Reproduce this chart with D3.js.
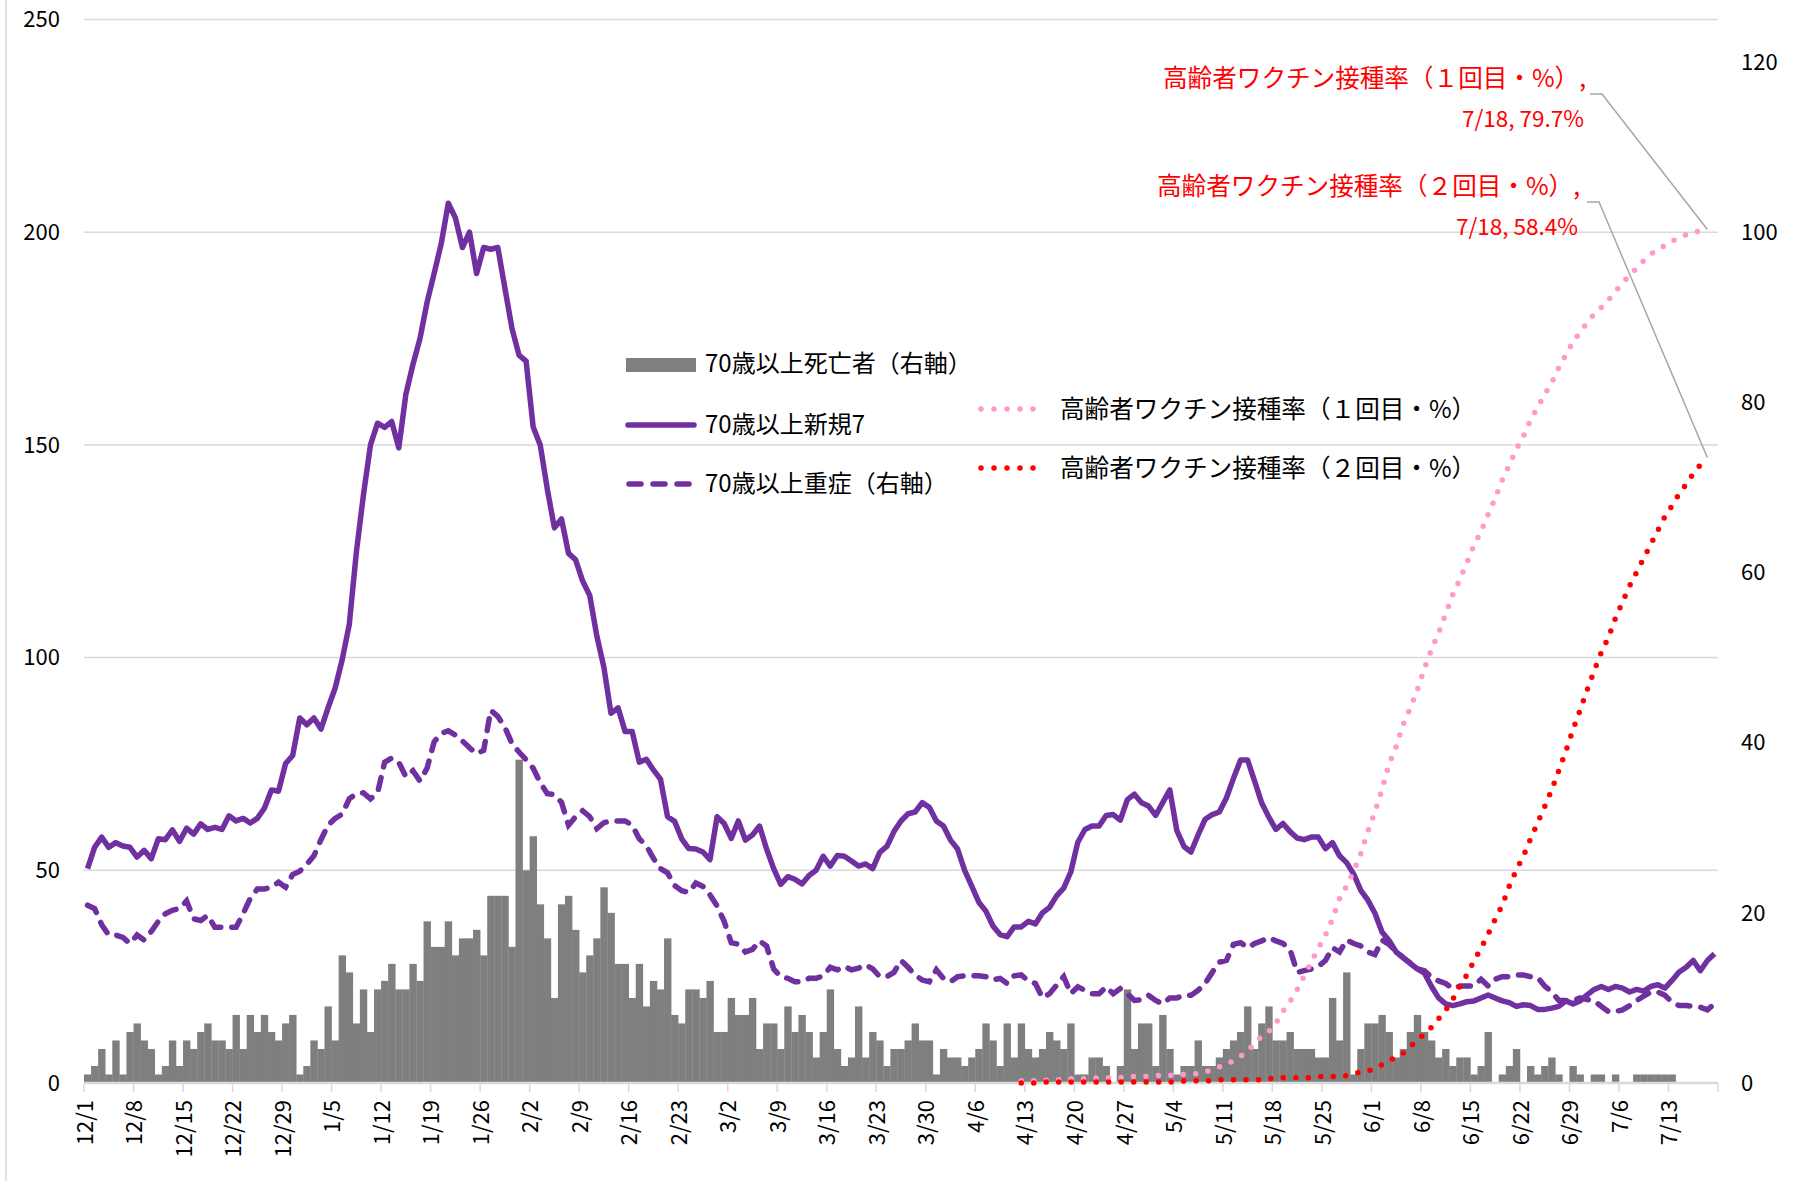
<!DOCTYPE html>
<html>
<head>
<meta charset="utf-8">
<script src="https://cdn.jsdelivr.net/npm/d3@7"></script>
<style>
  body { margin: 0; background: #fff; }
  text { font-family: "Noto Sans CJK JP", "Noto Sans", sans-serif; }
</style>
</head>
<body>
<svg id="chart" width="1796" height="1181"></svg>
<script>
// daily categories 12/1 .. 7/19
const firstDay = new Date(2020, 11, 1);
const lastDay = new Date(2021, 6, 19);

const tickLabels = ["12/1","12/8","12/15","12/22","12/29","1/5","1/12","1/19","1/26","2/2","2/9",
  "2/16","2/23","3/2","3/9","3/16","3/23","3/30","4/6","4/13","4/20","4/27","5/4","5/11","5/18",
  "5/25","6/1","6/8","6/15","6/22","6/29","7/6","7/13"];
const leftTicks = [0, 50, 100, 150, 200, 250];
const rightTicks = [0, 20, 40, 60, 80, 100, 120];

// 70歳以上死亡者 (right axis)
const deaths70 = [
  1,2,4,1,5,1,6,7,5,4, 1,2,5,2,5,4,6,7,5,5, 4,8,4,8,6,8,6,5,7,8, 1,2,5,4,9,5,15,13,7,11,
  6,11,12,14,11,11,14,12,19,16, 16,19,15,17,17,18,15,22,22,22, 16,38,25,29,21,17,10,21,22,18,
  13,15,17,23,20,14,14,10,14,9, 12,11,17,8,7,11,11,10,12,6, 6,10,8,8,10,4,7,7,4,9,
  6,8,6,3,6,11,4,2,3,9, 3,6,5,2,4,4,5,7,5,5, 1,4,3,3,2,3,4,7,5,2, 7,3,7,4,3,4,6,5,4,7,
  1,1,3,3,2,0,2,11,4,7, 7,2,8,4,1,2,2,5,2,2, 3,4,5,6,9,4,7,9,5,5, 6,4,4,4,3,3,10,5,13,1,
  4,7,7,8,6,3,4,6,8,6, 5,3,4,2,3,3,1,2,6,0, 1,2,4,0,2,1,2,3,1,0, 2,1,0,1,1,0,1,0,0,1,
  1,1,1,1,1,0,0,0,0,0,0];

// 70歳以上新規7 (left axis)
const newCases70 = [
  50.4,55.4,57.8,55.4,56.5,55.7,55.4,53.1,54.7,52.7, 57.4,57.2,59.5,56.8,59.9,58.5,60.9,59.6,60.1,59.6,
  62.8,61.6,62.2,61.1,62.2,64.6,68.9,68.6,75.1,77.0, 85.8,84.2,85.8,83.2,88.2,92.8,99.5,107.8,124.7,138.2,
  150.0,155.1,154.1,155.5,149.3,161.9,168.9,175.0,183.5,190.3, 197.3,206.8,203.4,196.4,200.0,190.3,196.4,196.0,196.4,186.9,
  177.4,171.1,169.7,154.2,150.0,139.6,130.5,132.6,124.5,123.0, 118.0,114.6,105.1,97.7,86.9,88.2,82.6,82.6,75.4,76.1,
  73.6,71.4,62.6,61.5,57.4,55.1,55.0,54.3,52.5,62.6, 61.0,57.5,61.6,57.1,58.3,60.4,55.0,50.4,46.7,48.5,
  47.9,46.8,48.8,50.0,53.3,51.0,53.5,53.3,52.2,51.0, 51.5,50.4,54.2,55.6,59.1,61.6,63.3,63.7,65.9,64.8,
  61.6,60.4,57.1,55.0,50.0,46.3,42.5,40.4,36.9,34.9, 34.4,36.7,36.7,38.0,37.4,40.0,41.3,44.0,45.8,49.6,
  56.6,59.6,60.4,60.4,62.9,63.1,61.8,66.6,67.9,65.9, 65.1,62.9,65.9,68.9,59.3,55.6,54.3,58.3,62.0,63.1,
  63.7,67.0,71.6,75.9,75.9,70.9,65.8,62.5,59.6,61.0, 59.1,57.6,57.2,57.8,57.8,55.1,56.5,53.4,51.8,49.1,
  45.3,43.0,39.9,35.5,33.5,30.8,29.5,28.1,26.8,25.8, 22.7,20.0,18.6,18.2,18.6,19.1,19.3,20.0,20.7,20.0,
  19.3,18.9,18.0,18.4,18.2,17.3,17.3,17.6,18.0,19.3, 18.6,19.3,20.7,22.0,22.7,22.0,22.7,22.3,21.4,22.0,
  21.6,22.7,23.1,22.3,24.1,26.1,27.2,28.8,26.4,28.8,30.4];

// 70歳以上重症 (right axis)
const severe70 = [
  20.9,20.5,18.6,17.4,17.4,17.1,16.4,17.4,16.8,17.8, 19.0,19.9,20.3,20.5,21.4,19.3,19.1,19.7,18.3,18.3,
  18.3,18.3,19.9,21.7,22.8,22.8,23.0,23.6,23.0,24.5, 24.9,25.7,26.7,28.6,30.3,31.1,31.6,33.4,34.0,34.1,
  33.4,34.1,37.7,38.2,37.7,36.0,36.7,35.5,37.0,40.1, 41.1,41.4,40.9,40.2,39.4,38.7,39.1,43.8,43.1,41.8,
  39.9,38.9,38.0,37.0,35.3,34.0,33.9,33.0,30.3,31.3, 32.0,31.3,29.9,30.6,30.8,30.8,30.8,30.3,28.7,27.9,
  26.4,25.2,24.7,23.2,22.6,22.4,23.5,23.1,22.1,20.8, 19.0,16.5,16.3,15.4,15.7,16.7,16.1,13.4,12.5,12.3,
  11.9,11.9,12.3,12.3,12.6,13.6,13.3,13.7,13.3,13.5, 13.9,13.4,12.5,12.5,13.0,14.4,13.6,12.7,12.1,11.9,
  13.3,12.3,11.9,12.5,12.6,12.6,12.6,12.5,12.1,12.3, 11.7,12.6,12.7,12.0,11.7,10.0,10.5,11.5,12.5,10.5,
  11.3,10.9,10.5,10.5,11.3,10.5,11.1,10.5,9.7,9.8, 10.3,9.7,9.3,10.0,10.0,10.3,10.3,10.9,11.7,13.0,
  14.2,14.4,16.3,16.5,15.9,16.4,16.7,17.1,16.7,16.4, 15.7,13.0,13.2,13.4,13.7,14.4,15.9,15.4,16.8,16.4,
  16.1,15.4,15.1,16.8,16.3,15.4,14.7,14.1,13.4,13.2, 12.4,12.0,11.7,11.1,11.4,11.4,11.4,12.2,11.4,12.2,
  12.5,12.5,12.7,12.7,12.5,12.4,11.4,10.7,9.7,9.7, 9.7,10.0,9.8,9.7,9.0,8.4,8.4,8.6,9.1,9.7,
  10.2,10.7,10.7,10.3,9.5,9.1,9.1,9.0,8.9,8.6,9.3];

// 高齢者ワクチン接種率 (%), from 4/12
const vaccStart = "4/12";
const vaccDose1 = [
  0.2,0.2,0.2,0.2,0.3,0.3,0.3,0.4,0.4,0.4, 0.4,0.5,0.5,0.5,0.5,0.6,0.6,0.6,0.6,0.7,
  0.7,0.7,0.8,0.8,0.8,0.9,1.0,1.3,1.5,1.7, 2.1,2.5,3.0,3.7,4.4,4.8,5.6,6.7,7.6,8.7,
  10.0,11.3,12.6,13.8,15.3,17.2,18.4,19.8,21.4,23.5, 25.3,27.4,29.8,31.4,33.5,35.0,36.7,38.7,40.5,42.0,
  43.8,45.6,47.0,48.6,50.2,51.5,53.1,54.6,56.3,57.7, 59.2,60.4,61.9,63.1,64.3,65.4,66.8,68.0,69.2,70.1,
  71.0,71.8,72.4,73.1,73.9,74.7,75.4,76.1,76.8,77.4, 77.8,78.2,78.6,78.9,79.2,79.4,79.6,79.7];
const vaccDose2 = [
  0.0,0.0,0.0,0.1,0.1,0.1,0.1,0.1,0.1,0.1, 0.1,0.1,0.1,0.1,0.1,0.1,0.1,0.1,0.1,0.1,
  0.1,0.1,0.1,0.2,0.2,0.2,0.2,0.2,0.3,0.3, 0.3,0.3,0.3,0.3,0.3,0.4,0.5,0.5,0.5,0.5,
  0.5,0.5,0.6,0.6,0.6,0.6,0.7,0.9,1.0,1.1, 1.4,1.7,2.1,2.4,2.8,3.4,4.0,4.6,5.2,6.0,
  6.8,7.8,9.0,10.1,11.4,12.6,13.9,15.3,16.6,18.4, 19.9,21.2,22.8,24.3,25.8,27.4,29.2,31.0,33.0,34.8,
  36.7,38.5,40.2,41.6,43.4,44.9,46.4,47.7,49.0,50.3, 51.6,52.9,53.9,55.0,55.9,56.9,57.7,58.4];

const seriesNames = ["70歳以上死亡者（右軸）", "70歳以上新規7", "70歳以上重症（右軸）",
  "高齢者ワクチン接種率（１回目・%）", "高齢者ワクチン接種率（２回目・%）"];

const svg = d3.select("#chart");
const W = 1796, H = 1181;
const plot = {left: 84, right: 1718, top: 19.5, bottom: 1083};

const fmt = d3.timeFormat("%-m/%-d");
const cats = d3.timeDay.range(firstDay, d3.timeDay.offset(lastDay, 1)).map(fmt);

const x = d3.scaleBand().domain(cats).range([plot.left, plot.right]).padding(0);
const cx = i => x(cats[i]) + x.bandwidth() / 2;
const yL = d3.scaleLinear().domain([0, 250]).range([plot.bottom, plot.top]);
const yR = d3.scaleLinear().domain([0, 125]).range([plot.bottom, plot.top]);
// the vaccination series sit on their own (hidden) scale, 79.7% lands near 100 on the right axis
const yV = d3.scaleLinear().domain([0, 99.3]).range([plot.bottom, plot.top]);

svg.append("rect").attr("width", W).attr("height", H).attr("fill", "#fff");
// chart border remnant on the left
svg.append("line").attr("x1", 6).attr("x2", 6).attr("y1", 0).attr("y2", H)
  .attr("stroke", "#d9d9d9").attr("stroke-width", 1.5);

// gridlines
svg.append("g").selectAll("line").data(leftTicks.filter(d => d > 0)).join("line")
  .attr("x1", plot.left).attr("x2", plot.right)
  .attr("y1", d => yL(d)).attr("y2", d => yL(d))
  .attr("stroke", "#d9d9d9").attr("stroke-width", 1.5);

// left axis labels
svg.append("g").selectAll("text").data(leftTicks).join("text")
  .attr("x", 60).attr("y", d => yL(d)).attr("dy", "0.35em")
  .attr("text-anchor", "end").attr("font-size", 22).attr("fill", "#000")
  .text(d => d);

// right axis labels
svg.append("g").selectAll("text").data(rightTicks).join("text")
  .attr("x", 1741).attr("y", d => yR(d)).attr("dy", "0.35em")
  .attr("text-anchor", "start").attr("font-size", 22).attr("fill", "#000")
  .text(d => d);

// bars
svg.append("g").selectAll("rect").data(deaths70).join("rect")
  .attr("x", (d, i) => x(cats[i]))
  .attr("width", x.bandwidth() + 0.3)
  .attr("y", d => yR(d))
  .attr("height", d => plot.bottom - yR(d))
  .attr("fill", "#7f7f7f");

// x axis line + ticks + labels
svg.append("line").attr("x1", plot.left).attr("x2", plot.right)
  .attr("y1", plot.bottom).attr("y2", plot.bottom)
  .attr("stroke", "#d9d9d9").attr("stroke-width", 2.5);
svg.append("g").selectAll("line").data(tickLabels.concat(["end"])).join("line")
  .attr("x1", d => d == "end" ? plot.right : x(d))
  .attr("x2", d => d == "end" ? plot.right : x(d))
  .attr("y1", plot.bottom).attr("y2", plot.bottom + 9)
  .attr("stroke", "#d9d9d9").attr("stroke-width", 1.5);
svg.append("g").selectAll("text").data(tickLabels).join("text")
  .attr("transform", d => `translate(${x(d) + 1},1100) rotate(-90)`)
  .attr("dy", "0.35em").attr("text-anchor", "end")
  .attr("font-size", 22).attr("fill", "#000")
  .text(d => d);

const purple = "#7030a0", pink = "#ff99cc", red = "#ff0000";

const lineL = d3.line().x((d, i) => cx(i)).y(d => yL(d));
const lineR = d3.line().x((d, i) => cx(i)).y(d => yR(d));
const vi = cats.indexOf(vaccStart);
const lineV = d3.line().x((d, i) => cx(vi + i)).y(d => yV(d));

svg.append("path").datum(newCases70).attr("d", lineL)
  .attr("fill", "none").attr("stroke", purple).attr("stroke-width", 5.5)
  .attr("stroke-linejoin", "round");
svg.append("path").datum(severe70).attr("d", lineR)
  .attr("fill", "none").attr("stroke", purple).attr("stroke-width", 5.5)
  .attr("stroke-dasharray", "12,11").attr("stroke-linecap", "round");
svg.append("path").datum(vaccDose1).attr("d", lineV)
  .attr("fill", "none").attr("stroke", pink).attr("stroke-width", 5.5)
  .attr("stroke-dasharray", "0,12.5").attr("stroke-linecap", "round");
svg.append("path").datum(vaccDose2).attr("d", lineV)
  .attr("fill", "none").attr("stroke", red).attr("stroke-width", 5.5)
  .attr("stroke-dasharray", "0,12.5").attr("stroke-linecap", "round");

// legend
const lg = svg.append("g").attr("fill", "#000");
lg.append("rect").attr("x", 626).attr("y", 358).attr("width", 70).attr("height", 14).attr("fill", "#7f7f7f");
lg.append("line").attr("x1", 628).attr("x2", 694).attr("y1", 425).attr("y2", 425)
  .attr("stroke", purple).attr("stroke-width", 5.5).attr("stroke-linecap", "round");
lg.append("line").attr("x1", 629).attr("x2", 694).attr("y1", 484).attr("y2", 484)
  .attr("stroke", purple).attr("stroke-width", 5.5).attr("stroke-linecap", "round")
  .attr("stroke-dasharray", "12,12");
lg.append("line").attr("x1", 981).attr("x2", 1046).attr("y1", 409).attr("y2", 409)
  .attr("stroke", pink).attr("stroke-width", 5.5).attr("stroke-linecap", "round")
  .attr("stroke-dasharray", "0,13");
lg.append("line").attr("x1", 981).attr("x2", 1046).attr("y1", 468).attr("y2", 468)
  .attr("stroke", red).attr("stroke-width", 5.5).attr("stroke-linecap", "round")
  .attr("stroke-dasharray", "0,13");
[[705, 364, 0, 24], [705, 425, 1, 24], [705, 484, 2, 24], [1060, 409, 3, 24.6], [1060, 468, 4, 24.6]].forEach(p => {
  lg.append("text").attr("x", p[0]).attr("y", p[1]).attr("dy", "0.35em")
    .attr("font-size", p[3]).text(seriesNames[p[2]]);
});

// data labels on the last vaccination points
function callout(arr, name, tx, ty, lx, ly){
  let li = arr.length - 1;
  let px = cx(vi + li), py = yV(arr[li]);
  svg.append("path")
    .attr("d", d3.line()([[lx, ly], [lx + 12, ly], [px, py]]))
    .attr("fill", "none").attr("stroke", "#a6a6a6").attr("stroke-width", 1.5);
  let t = svg.append("g").attr("fill", red).attr("text-anchor", "end");
  t.append("text").attr("x", tx + 2).attr("y", ty).attr("dy", "0.35em").attr("font-size", 24.6)
    .text(name + ",");
  t.append("text").attr("x", tx).attr("y", ty + 41).attr("dy", "0.35em").attr("font-size", 22.5)
    .text(`${cats[vi + li]}, ${arr[li]}%`);
}
callout(vaccDose1, seriesNames[3], 1584, 78, 1590, 94);
callout(vaccDose2, seriesNames[4], 1578, 186, 1587, 202);
</script>
</body>
</html>
